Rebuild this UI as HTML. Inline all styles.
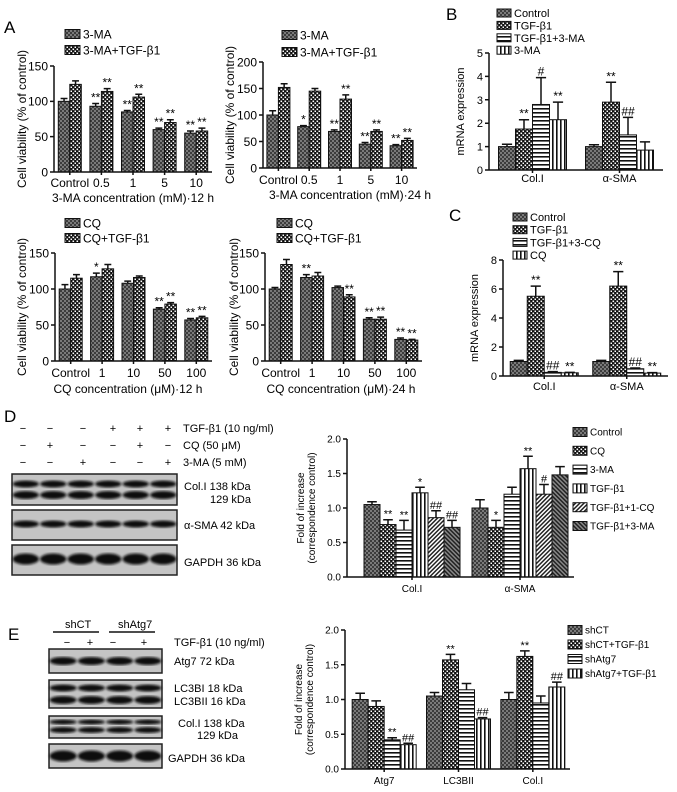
<!DOCTYPE html>
<html><head><meta charset="utf-8">
<style>
html,body{margin:0;padding:0;background:#fff;}
svg{display:block;font-family:"Liberation Sans",sans-serif;}
.n{font-family:"Liberation Sans Narrow","Liberation Sans",sans-serif;}
</style></head>
<body>
<svg id="fig" width="677" height="792" viewBox="0 0 677 792">
<defs>
<pattern id="pDark" width="4" height="4" patternUnits="userSpaceOnUse"><rect width="4" height="4" fill="#3c3c3c"/><rect width="2" height="2" fill="#7a7a7a"/><rect x="2" y="2" width="2" height="2" fill="#7a7a7a"/></pattern>
<pattern id="pCheck" width="4" height="4" patternUnits="userSpaceOnUse"><rect width="4" height="4" fill="#111"/><rect x="0.5" y="0.5" width="1.6" height="1.6" fill="#fff"/><rect x="2.5" y="2.5" width="1.6" height="1.6" fill="#fff"/></pattern>
<pattern id="pH" width="4" height="4" patternUnits="userSpaceOnUse"><rect width="4" height="4" fill="#fff"/><rect y="0" width="4" height="1.6" fill="#111"/></pattern>
<pattern id="pV" width="4" height="4" patternUnits="userSpaceOnUse"><rect width="4" height="4" fill="#fff"/><rect x="0" width="1.6" height="4" fill="#111"/></pattern>
<pattern id="pD1" width="3" height="3" patternUnits="userSpaceOnUse" patternTransform="rotate(45)"><rect width="3" height="3" fill="#fff"/><rect width="1.5" height="3" fill="#222"/></pattern>
<pattern id="pD2" width="3" height="3" patternUnits="userSpaceOnUse" patternTransform="rotate(-45)"><rect width="3" height="3" fill="#888"/><rect width="1.5" height="3" fill="#222"/></pattern>
<filter id="blur"><feGaussianBlur stdDeviation="1.3"/></filter>
</defs>
<text x="4" y="33" font-size="17">A</text>
<text x="446" y="20" font-size="17">B</text>
<text x="449" y="221" font-size="17">C</text>
<text x="4" y="422" font-size="17">D</text>
<text x="8" y="640" font-size="17">E</text>
</svg>
<script>
// ---------- data ----------
const a1Cats=['Control','0.5','1','5','10'];
const a1Ticks=[0,50,100,150];
const a1MA=[100,93,85,60,55];
const a1MAErr=[4,4,2,2,3];
const a1MATgf=[124,114,106,70,58];
const a1MATgfErr=[5,4,4,4,4];
const a1Stars1=['','**','**','**','**'];
const a1Stars2=['','**','**','**','**'];

const a2Cats=['Control','0.5','1','5','10'];
const a2Ticks=[0,50,100,150,200];
const a2MA=[100,78,69,45,42];
const a2MAErr=[8,2,3,3,2];
const a2MATgf=[152,145,130,69,52];
const a2MATgfErr=[7,5,8,3,4];
const a2Stars1=['','*','**','**','**'];
const a2Stars2=['','','**','**','**'];

const a3Cats=['Control','1','10','50','100'];
const a3Ticks=[0,50,100,150];
const a3CQ=[100,117,108,72,57];
const a3CQErr=[6,5,3,2,2];
const a3CQTgf=[115,128,116,79,60];
const a3CQTgfErr=[5,6,2,2,2];
const a3Stars1=['','*','','**','**'];
const a3Stars2=['','','','**','**'];

const a4Cats=['Control','1','10','50','100'];
const a4Ticks=[0,50,100,150];
const a4CQ=[100,116,102,58,30];
const a4CQErr=[2,4,2,2,2];
const a4CQTgf=[134,118,89,58,29];
const a4CQTgfErr=[7,5,3,3,1];
const a4Stars1=['','**','','**','**'];
const a4Stars2=['','','**','**','**'];

const bCats=['Col.I','α-SMA'];
const bTicks=[0,1,2,3,4,5];
const bControl=[1.0,1.0];
const bControlErr=[0.1,0.08];
const bTgf=[1.75,2.9];
const bTgfErr=[0.4,0.85];
const bTgfMA=[2.8,1.5];
const bTgfMAErr=[1.15,0.75];
const bMA=[2.15,0.85];
const bMAErr=[0.75,0.35];
const bAnno=[['',''],['**','**'],['#','##'],['**','']];

const cCats=['Col.I','α-SMA'];
const cTicks=[0,2,4,6,8];
const cControl=[1.0,1.0];
const cControlErr=[0.08,0.08];
const cTgf=[5.5,6.2];
const cTgfErr=[0.7,1.0];
const cTgfCQ=[0.25,0.5];
const cTgfCQErr=[0.05,0.05];
const cCQ=[0.22,0.2];
const cCQErr=[0.03,0.03];
const cAnno=[['',''],['**','**'],['##','##'],['**','**']];

const dCats=['Col.I','α-SMA'];
const dTicks=[0,0.5,1,1.5,2];
const dControl=[1.05,1.0];
const dControlErr=[0.04,0.12];
const dCQ=[0.76,0.72];
const dCQErr=[0.07,0.1];
const dMA=[0.68,1.2];
const dMAErr=[0.14,0.1];
const dTgf=[1.22,1.57];
const dTgfErr=[0.08,0.18];
const dTgfCQ=[0.86,1.2];
const dTgfCQErr=[0.1,0.14];
const dTgfMA=[0.72,1.48];
const dTgfMAErr=[0.1,0.12];
const dAnno=[['',''],['**','*'],['**',''],['*','**'],['##','#'],['##','']];

const eCats=['Atg7','LC3BII','Col.I'];
const eTicks=[0,0.5,1,1.5,2];
const eShCT=[1.0,1.05,1.0];
const eShCTErr=[0.09,0.05,0.1];
const eShCTTgf=[0.9,1.57,1.62];
const eShCTTgfErr=[0.08,0.08,0.08];
const eShAtg=[0.42,1.14,0.95];
const eShAtgErr=[0.03,0.09,0.1];
const eShAtgTgf=[0.35,0.72,1.18];
const eShAtgTgfErr=[0.02,0.02,0.07];
const eAnno=[['','',''],['','**','**'],['**','',''],['##','##','##']];

// ---------- drawing ----------
const NS='http://www.w3.org/2000/svg';
const svg=document.getElementById('fig');
function mk(tag,parent){const e=document.createElementNS(NS,tag);(parent||svg).appendChild(e);return e;}
function txt(parent,x,y,s,size,anchor,cls){const t=mk('text',parent);t.setAttribute('x',x);t.setAttribute('y',y);t.setAttribute('font-size',size);if(anchor)t.setAttribute('text-anchor',anchor);if(cls)t.setAttribute('class',cls);t.textContent=s;return t;}

function chart(name,c,cats,ticks,series,errs,annos,pats){
  const g=mk('g');
  
  
  const ys=v=>c.yb-(v/c.max)*(c.yb-c.yt);
  const n=cats.length, S=series.length;
  const step=(c.x1-c.x0-c.pad)/n;
  const cx=i=>c.x0+c.pad+(i+0.5)*step;
  for(let s=0;s<S;s++){
    for(let i=0;i<n;i++){
      const v=series[s][i], e=errs[s][i];
      const bx=cx(i)+(s-(S-1)/2)*c.bw-c.bw/2;
      const r=mk('rect',g);
      
      
      r.setAttribute('x',bx);r.setAttribute('y',ys(v));r.setAttribute('width',c.bw);r.setAttribute('height',c.yb-ys(v));
      r.setAttribute('fill','url(#'+pats[s]+')');r.setAttribute('stroke','#111');r.setAttribute('stroke-width','1');
      const ml=bx+c.bw/2, top=ys(v+e);
      const l=mk('path',g);
      
      
      l.setAttribute('d','M'+ml+' '+ys(v)+'V'+top+'M'+(ml-c.bw*0.3)+' '+top+'H'+(ml+c.bw*0.3));
      l.setAttribute('stroke','#111');l.setAttribute('stroke-width','1.5');l.setAttribute('fill','none');
      const a=annos[s][i];
      if(a){const t=txt(g,ml,top-2,a,c.af,'middle',c.cls);
        
        }
    }
  }
  const ax=mk('path',g);
  
  
  let d='M'+c.x0+' '+c.yt+'V'+c.yb+'H'+c.x1;
  ticks.forEach(t=>{d+='M'+(c.x0-4)+' '+ys(t)+'H'+c.x0;});
  for(let i=0;i<n;i++){d+='M'+cx(i)+' '+c.yb+'V'+(c.yb+3);}
  ax.setAttribute('d',d);ax.setAttribute('stroke','#111');ax.setAttribute('stroke-width','1.5');ax.setAttribute('fill','none');
  ticks.forEach(t=>{const tl=txt(g,c.x0-6,ys(t)+c.fs*0.36,c.fmt(t),c.fs,'end',c.cls);
    
    });
  cats.forEach((s,i)=>{const tl=txt(g,cx(i),c.xly,s,c.fs,'middle',c.cls);
    
    });
  c.yt2.forEach((s,k)=>{const t=txt(g,0,0,s,c.ytf,'middle',c.cls);
    t.setAttribute('transform','translate('+(c.ytx+k*c.ytf*1.1)+','+((c.yt+c.yb)/2)+') rotate(-90)');
    
    });
  if(c.xt){const t=txt(g,c.xtx,c.xty,c.xt,c.fs,'middle',c.cls);
    
    }
  c.leg.forEach((s,k)=>{
    const y=c.ly+k*c.lstep;
    const r=mk('rect',g);
    
    
    r.setAttribute('x',c.lx);r.setAttribute('y',y-c.lh/2);r.setAttribute('width',c.lw);r.setAttribute('height',c.lh);
    r.setAttribute('fill','url(#'+pats[k]+')');r.setAttribute('stroke','#111');r.setAttribute('stroke-width','1');
    const t=txt(g,c.lx+c.lw+3,y+c.lfs*0.36,s,c.lfs,null,c.cls);
    
    
  });
}
const f0=v=>String(v), f1=v=>v.toFixed(1);
const A=(o)=>Object.assign({pad:0,bw:11.5,fs:12,af:12,ytf:12,fmt:f0,lw:15,lh:9,lfs:12,lstep:16},o);

chart('chart-a-3ma-12h',A({x0:54,x1:212,yt:66,yb:172,max:150,xly:187,ytx:26,yt2:['Cell viability (% of control)'],xt:'3-MA concentration (mM)·12 h',xtx:133,xty:202,leg:['3-MA','3-MA+TGF-β1'],lx:65,ly:34}),
  a1Cats,a1Ticks,[a1MA,a1MATgf],[a1MAErr,a1MATgfErr],[a1Stars1,a1Stars2],['pDark','pCheck']);
chart('chart-a-3ma-24h',A({x0:263,x1:417,yt:62,yb:168,max:200,xly:184,ytx:234,yt2:['Cell viability (% of control)'],xt:'3-MA concentration (mM)·24 h',xtx:350,xty:199,leg:['3-MA','3-MA+TGF-β1'],lx:282,ly:35,lstep:17}),
  a2Cats,a2Ticks,[a2MA,a2MATgf],[a2MAErr,a2MATgfErr],[a2Stars1,a2Stars2],['pDark','pCheck']);
chart('chart-a-cq-12h',A({x0:55,x1:212,yt:253,yb:361,max:150,xly:377,ytx:26,yt2:['Cell viability (% of control)'],xt:'CQ concentration (μM)·12 h',xtx:128,xty:393,leg:['CQ','CQ+TGF-β1'],lx:65,ly:223,lstep:15}),
  a3Cats,a3Ticks,[a3CQ,a3CQTgf],[a3CQErr,a3CQTgfErr],[a3Stars1,a3Stars2],['pDark','pCheck']);
chart('chart-a-cq-24h',A({x0:265,x1:422,yt:253,yb:361,max:150,xly:377,ytx:238,yt2:['Cell viability (% of control)'],xt:'CQ concentration (μM)·24 h',xtx:341,xty:393,leg:['CQ','CQ+TGF-β1'],lx:277,ly:223,lstep:15}),
  a4Cats,a4Ticks,[a4CQ,a4CQTgf],[a4CQErr,a4CQTgfErr],[a4Stars1,a4Stars2],['pDark','pCheck']);

chart('chart-b-mrna',A({x0:489,x1:663,yt:53,yb:170,max:5,bw:17,fs:11,af:12,ytf:11,xly:182,ytx:464,yt2:['mRNA expression'],leg:['Control','TGF-β1','TGF-β1+3-MA','3-MA'],lx:497,ly:13,lstep:12.4,lfs:11,lh:8,lw:14}),
  bCats,bTicks,[bControl,bTgf,bTgfMA,bMA],[bControlErr,bTgfErr,bTgfMAErr,bMAErr],bAnno,['pDark','pCheck','pH','pV']);
chart('chart-c-mrna',A({x0:503,x1:668,yt:260,yb:376,max:8,bw:17,fs:11,af:12,ytf:11,xly:390,ytx:478,yt2:['mRNA expression'],leg:['Control','TGF-β1','TGF-β1+3-CQ','CQ'],lx:513,ly:217,lstep:12.7,lfs:11,lh:8,lw:14}),
  cCats,cTicks,[cControl,cTgf,cTgfCQ,cCQ],[cControlErr,cTgfErr,cTgfCQErr,cCQErr],cAnno,['pDark','pCheck','pH','pV']);
chart('chart-d-protein',A({x0:347,x1:574,pad:11,yt:439,yb:577,max:2,bw:16,fs:10,af:11,ytf:10,fmt:f1,cls:'n',xly:592,ytx:304,yt2:['Fold of increase','(correspondence control)'],leg:['Control','CQ','3-MA','TGF-β1','TGF-β1+1-CQ','TGF-β1+3-MA'],lx:573,ly:432,lstep:18.8,lfs:10,lh:9,lw:14}),
  dCats,dTicks,[dControl,dCQ,dMA,dTgf,dTgfCQ,dTgfMA],[dControlErr,dCQErr,dMAErr,dTgfErr,dTgfCQErr,dTgfMAErr],dAnno,['pDark','pCheck','pH','pV','pD1','pD2']);
chart('chart-e-protein',A({x0:345,x1:570,pad:2,yt:630,yb:769,max:2,bw:16,fs:10,af:11,ytf:10,fmt:f1,cls:'n',xly:784,ytx:302,yt2:['Fold of increase','(correspondence control)'],leg:['shCT','shCT+TGF-β1','shAtg7','shAtg7+TGF-β1'],lx:568,ly:630,lstep:14.5,lfs:10,lh:9,lw:14}),
  eCats,eTicks,[eShCT,eShCTTgf,eShAtg,eShAtgTgf],[eShCTErr,eShCTTgfErr,eShAtgErr,eShAtgTgfErr],eAnno,['pDark','pCheck','pH','pV']);

// ---------- blots ----------
function blot(name,x,y,w,h,lanes,bands){
  const g=mk('g');
  
  
  const r=mk('rect',g);
  r.setAttribute('x',x);r.setAttribute('y',y);r.setAttribute('width',w);r.setAttribute('height',h);
  r.setAttribute('fill','#c4c4c4');r.setAttribute('stroke','#222');r.setAttribute('stroke-width','1.5');
  const lw=w/lanes;
  bands.forEach(b=>{for(let i=0;i<lanes;i++){const e=mk('ellipse',g);
    e.setAttribute('cx',x+lw*(i+0.5));e.setAttribute('cy',y+b[0]);e.setAttribute('rx',lw*0.48);e.setAttribute('ry',b[1]);
    e.setAttribute('fill','#111');e.setAttribute('filter','url(#blur)');}});
}
function label(name,x,y,s){const t=txt(svg,x,y,s,11,null,'n');
  
  }
const dRows=[['TGF-β1 (10 ng/ml)','−','−','−','+','+','+'],['CQ (50 μM)','−','+','−','−','+','−'],['3-MA (5 mM)','−','−','+','−','−','+']];
const dSignX=[23,50,83,113,140,168];
dRows.forEach((row,k)=>{const y=432+k*17;row.slice(1).forEach((s,i)=>{const t=txt(svg,dSignX[i],y,s,11,'middle','n');
  
  });label('treatment-label',183,y,row[0]);});
blot('blot-d-col1',12,474,165,31,6,[[10,3.5],[21,4]]);
blot('blot-d-asma',12,510,165,30,6,[[14,3.5]]);
blot('blot-d-gapdh',12,545,165,30,6,[[14,5.5]]);
label('band-label',184,490,'Col.I 138 kDa');label('band-label',210,503,'129 kDa');
label('band-label',184,529,'α-SMA 42 kDa');label('band-label',184,566,'GAPDH 36 kDa');
label('group-label',65,628,'shCT');label('group-label',118,628,'shAtg7');
const ln=mk('path');


ln.setAttribute('d','M53 632H99M109 632H155');ln.setAttribute('stroke','#111');ln.setAttribute('stroke-width','1.5');
const eSignX=[67,90,113,144];
['−','+','−','+'].forEach((s,i)=>{const t=txt(svg,eSignX[i],646,s,11,'middle','n');
  
  });
label('treatment-label',174,646,'TGF-β1 (10 ng/ml)');
blot('blot-e-atg7',49,649,113,24,4,[[12,4]]);
blot('blot-e-lc3',49,680,113,28,4,[[8,3.5],[20,4]]);
blot('blot-e-col1',49,716,113,22,4,[[6,2.5],[14,3]]);
blot('blot-e-gapdh',49,744,113,24,4,[[12,5.5]]);
label('band-label',174,665,'Atg7 72 kDa');
label('band-label',174,692,'LC3BI 18 kDa');label('band-label',174,705,'LC3BII 16 kDa');
label('band-label',178,727,'Col.I 138 kDa');label('band-label',197,739,'129 kDa');
label('band-label',168,762,'GAPDH 36 kDa');
</script>
</body></html>
